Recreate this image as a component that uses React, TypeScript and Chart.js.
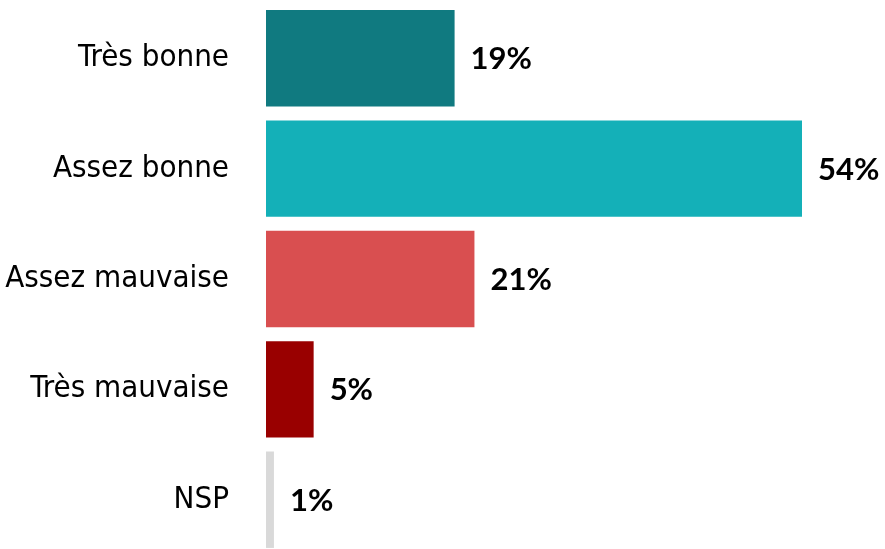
import React, { useEffect, useRef } from "react";
import { Chart, registerables } from "chart.js";

Chart.register(...registerables);

const categories = ["Très bonne", "Assez bonne", "Assez mauvaise", "Très mauvaise", "NSP"];
const values = [19, 54, 21, 4.8, 0.8];
const valueLabels = ["19%", "54%", "21%", "5%", "1%"];
const colors = ["#107A80", "#14B0B8", "#D94F50", "#990000", "#D9D9D9"];

const valueLabelPlugin = {
  id: "valueLabels",
  afterDatasetsDraw(chart: any) {
    const ctx = chart.ctx;
    const meta = chart.getDatasetMeta(0);
    ctx.save();
    ctx.font = "bold 31px Lato";
    ctx.fillStyle = "#000000";
    ctx.textAlign = "left";
    ctx.textBaseline = "middle";
    meta.data.forEach((bar: any, i: number) => {
      ctx.fillText(valueLabels[i], bar.x + 16, bar.y + 1);
    });
    ctx.restore();
  },
};

export default function App() {
  const ref = useRef<HTMLCanvasElement>(null);
  useEffect(() => {
    if (!ref.current) return;
    const chart = new Chart(ref.current, {
      type: "bar",
      data: {
        labels: categories,
        datasets: [
          {
            data: values,
            backgroundColor: colors,
            barPercentage: 1,
            categoryPercentage: 0.874,
          },
        ],
      },
      options: {
        indexAxis: "y",
        animation: false,
        responsive: false,
        layout: { padding: { top: 3, right: 83, bottom: 0, left: 0 } },
        plugins: { legend: { display: false }, tooltip: { enabled: false } },
        scales: {
          x: { display: false, min: 0, max: 54 },
          y: {
            grid: { display: false, drawTicks: true, tickLength: 37 },
            border: { display: false },
            afterFit: (s: any) => {
              s.width = 266;
            },
            ticks: {
              padding: 0,
              color: "#000000",
              font: { family: "'DejaVu Sans Condensed', 'DejaVu Sans'", size: 31, lineHeight: 0.2 },
            },
          },
        },
      },
      plugins: [valueLabelPlugin],
    });
    return () => chart.destroy();
  }, []);
  return (
    <div style={{ position: "fixed", left: 0, top: 0, width: 885, height: 549, overflow: "hidden", background: "#fff" }}>
      <canvas ref={ref} width={885} height={558} style={{ display: "block" }} />
    </div>
  );
}
